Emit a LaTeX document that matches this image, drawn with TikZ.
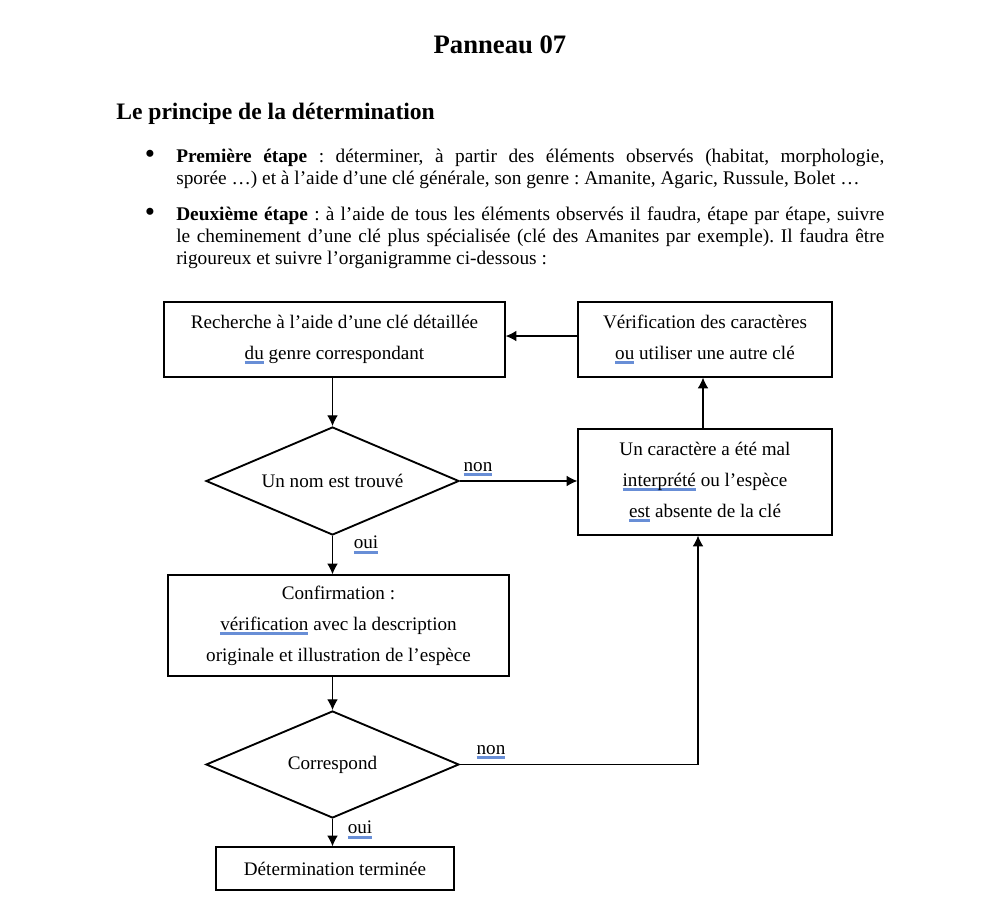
\documentclass[tikz,border=0pt]{standalone}
\usepackage{fontspec}
\setmainfont{Liberation Serif}
\usetikzlibrary{shapes.geometric,arrows.meta}
\definecolor{ulblue}{RGB}{104,142,214}
\newsavebox\ulbox
\newcommand\bu[1]{\sbox\ulbox{#1}\rlap{\textcolor{ulblue}{\rule[-3.6pt]{\wd\ulbox}{2pt}}}\usebox\ulbox}
\newcommand\bodyfont{\fontsize{14.35}{23.25}\selectfont}
\newcommand\parafont{\fontsize{14.5}{16.5}\selectfont}
\frenchspacing
\begin{document}
\begin{tikzpicture}[x=0.75pt,y=-0.75pt,
  box/.style={draw,line width=1pt,rectangle,align=center,inner sep=0pt,font=\bodyfont},
  dec/.style={draw,line width=1.4pt,diamond,inner sep=0pt,font=\bodyfont,aspect=2.34},
  arr/.style={line width=0.8pt,-{Latex[length=8pt,width=8pt]}},
  lab/.style={font=\bodyfont,inner sep=0pt},
  para/.style={font=\parafont,text width=531pt,align=justify,anchor=north west,inner sep=0pt}]
\useasboundingbox (0,0) rectangle (1000,919);
\fill[white] (0,0) rectangle (1000,919);

\node[font=\fontsize{20}{24}\selectfont\bfseries] (title) at (500,45) {Panneau 07};
\node[font=\fontsize{17.7}{21}\selectfont\bfseries,anchor=west,inner sep=0pt] (head) at (116,114) {Le principe de la détermination};

\node[font=\fontsize{22}{24}\selectfont] (bul1) at (150,157) {\textbullet};
\node[para] (p1) at (176,149) {\textbf{Première étape} : déterminer, à partir des éléments observés (habitat, morphologie,\linebreak sporée …) et à l’aide d’une clé générale, son genre : Amanite, Agaric, Russule, Bolet …};
\node[font=\fontsize{22}{24}\selectfont] (bul2) at (150,215) {\textbullet};
\node[para] (p2) at (176,207) {\textbf{Deuxième étape} : à l’aide de tous les éléments observés il faudra, étape par étape, suivre\linebreak le cheminement d’une clé plus spécialisée (clé des Amanites par exemple). Il faudra être\linebreak rigoureux et suivre l’organigramme ci-dessous :};

\node[box,minimum width=255.75pt,minimum height=56.25pt] (A) at (334.5,339.5) {Recherche à l’aide d’une clé détaillée\\\bu{du} genre correspondant};
\node[box,minimum width=190.5pt,minimum height=56.25pt] (B) at (705,339.5) {Vérification des caractères\\\bu{ou} utiliser une autre clé};
\node[dec,minimum width=189.75pt,minimum height=81pt] (D1) at (332.5,481) {Un nom est trouvé};
\node[box,minimum width=190.5pt,minimum height=79.5pt] (C) at (705,482) {Un caractère a été mal\\\bu{interprété} ou l’espèce\\\bu{est} absente de la clé};
\node[box,minimum width=255.75pt,minimum height=75.75pt] (D) at (338.5,625.5) {Confirmation :\\\bu{vérification} avec la description\\originale et illustration de l’espèce};
\node[dec,minimum width=189.75pt,minimum height=80.25pt] (D2) at (332.5,764.5) {Correspond};
\node[box,minimum width=178.5pt,minimum height=32.25pt] (E) at (335,868.5) {Détermination terminée};

\draw[arr] (D1.north |- A.south) -- (D1.north);
\draw[arr] (D1.east) -- (D1.east -| C.west);
\draw[arr] (D1.south) -- (D1.south |- D.north);
\draw[arr] (D2.north |- D.south) -- (D2.north);
\draw[arr] (D2.south) -- (D2.south |- E.north);
\draw[arr] (D2.east) -- ([xshift=-5.25pt]C.south |- D2.east) -- ([xshift=-5.25pt]C.south);
\draw[arr] ([xshift=-1.5pt]C.north) -- ([xshift=-1.5pt]C.north |- B.south);
\draw[arr] ([yshift=2.6pt]B.west) -- ([yshift=2.6pt]B.west -| A.east);

\node[lab] (n1) at (478,469) {\bu{non}};
\node[lab] (o1) at (366,545) {\bu{oui}};
\node[lab] (n2) at (491,752) {\bu{non}};
\node[lab] (o2) at (360,830) {\bu{oui}};
\end{tikzpicture}
\end{document}
